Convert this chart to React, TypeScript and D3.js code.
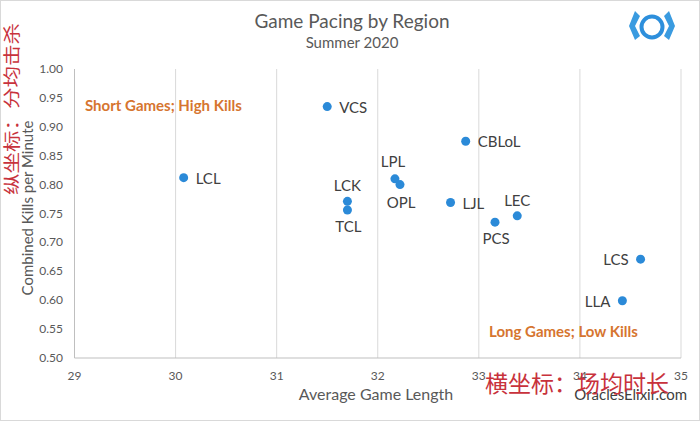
import React from "react";
import * as d3 from "d3";

const regions = ["VCS", "LCL", "CBLoL", "LPL", "OPL", "LCK", "TCL", "LJL", "LEC", "PCS", "LCS", "LLA"];
const gameLength = [31.5, 30.08, 32.87, 32.17, 32.22, 31.7, 31.7, 32.72, 33.38, 33.16, 34.6, 34.42];
const killsPerMin = [0.935, 0.812, 0.875, 0.81, 0.8, 0.771, 0.756, 0.769, 0.746, 0.735, 0.671, 0.599];
const labelPos = ["right", "right", "right", "above-left", "below-right", "above", "below", "right", "above", "below", "left", "left"];
const xTicks = [29, 30, 31, 32, 33, 34, 35];
const yTicks = [0.5, 0.55, 0.6, 0.65, 0.7, 0.75, 0.8, 0.85, 0.9, 0.95, 1.0];

const W = 700, H = 421;
const FONT = "Lato, 'Open Sans', sans-serif";
const CJK = "'Noto Sans CJK SC', sans-serif";

export default function App() {
  const x = d3.scaleLinear().domain([29, 35]).range([74.5, 681]);
  const y = d3.scaleLinear().domain([0.5, 1.0]).range([358, 69]);
  const fmt = d3.format(".2f");

  const labelOffset = (p: string): [number, number, string] => {
    switch (p) {
      case "right": return [12, 6, "start"];
      case "left": return [-12, 6, "end"];
      case "above": return [0, -10, "middle"];
      case "below": return [1, 22, "middle"];
      case "above-left": return [-2, -12, "middle"];
      case "below-right": return [1, 23, "middle"];
      default: return [10, 5, "start"];
    }
  };

  return (
    <svg width={W} height={H} style={{ position: "absolute", left: 0, top: 0, background: "#fff" }}>
      <rect x={0.5} y={0.5} width={W - 1} height={H - 1} fill="#fff" stroke="#d9d9d9" />
      <text x={352} y={28} textAnchor="middle" fontFamily={FONT} fontSize={19} fill="#595959">Game Pacing by Region</text>
      <text x={352} y={48} textAnchor="middle" fontFamily={FONT} fontSize={15} fill="#595959">Summer 2020</text>

      {/* logo */}
      <g transform="translate(652,27)">
        <circle r={10.5} fill="none" stroke="#2d8fdc" strokeWidth={4} />
        <path d="M-17,-16 L-23,-1 L-17,13 L-12,9 L-17,-1 L-12,-11 Z" fill="#3a9be0" />
        <path d="M17,-16 L23,-1 L17,13 L12,9 L17,-1 L12,-11 Z" fill="#3a9be0" />
      </g>

      {/* vertical gridlines */}
      {xTicks.slice(1).map((t) => (
        <line key={t} x1={x(t)} x2={x(t)} y1={y(1.0)} y2={y(0.5)} stroke="#d9d9d9" strokeWidth={1} />
      ))}
      {/* axes */}
      <line x1={x(29)} x2={x(29)} y1={y(1.0)} y2={y(0.5)} stroke="#bfbfbf" />
      <line x1={x(29)} x2={x(35)} y1={y(0.5)} y2={y(0.5)} stroke="#bfbfbf" />

      {xTicks.map((t) => (
        <text key={t} x={x(t)} y={380} textAnchor="middle" fontFamily={FONT} fontSize={12} fill="#595959">{t}</text>
      ))}
      {yTicks.map((t) => (
        <text key={t} x={63} y={y(t) + 4} textAnchor="end" fontFamily={FONT} fontSize={12} fill="#595959">{fmt(t)}</text>
      ))}

      <text x={376} y={400} textAnchor="middle" fontFamily={FONT} fontSize={16} fill="#595959">Average Game Length</text>
      <text transform={`translate(33,208) rotate(-90)`} textAnchor="middle" fontFamily={FONT} fontSize={15} fill="#595959">Combined Kills per Minute</text>

      <text x={85} y={111} fontFamily={FONT} fontSize={15} fontWeight="bold" fill="#d6752f">Short Games; High Kills</text>
      <text x={489} y={337} fontFamily={FONT} fontSize={15} fontWeight="bold" fill="#d6752f">Long Games; Low Kills</text>

      {regions.map((r, i) => {
        const cx = x(gameLength[i]);
        const cy = y(killsPerMin[i]);
        const [dx, dy, anchor] = labelOffset(labelPos[i]);
        return (
          <g key={r}>
            <circle cx={cx} cy={cy} r={4.5} fill="#2b8ad8" />
            <text x={cx + dx} y={cy + dy} textAnchor={anchor} fontFamily={FONT} fontSize={15} fill="#404040">{r}</text>
          </g>
        );
      })}

      <text x={687} y={400} textAnchor="end" fontFamily={FONT} fontSize={15} fill="#404040">OraclesElixir.com</text>

      <text x={485} y={392} fontFamily={CJK} fontSize={23} fill="#c8323c">横坐标：场均时长</text>
      <text transform={`translate(18,195) rotate(-90) scale(1,0.78)`} fontFamily={CJK} fontSize={21.5} fill="#c8323c">纵坐标：分均击杀</text>
    </svg>
  );
}
